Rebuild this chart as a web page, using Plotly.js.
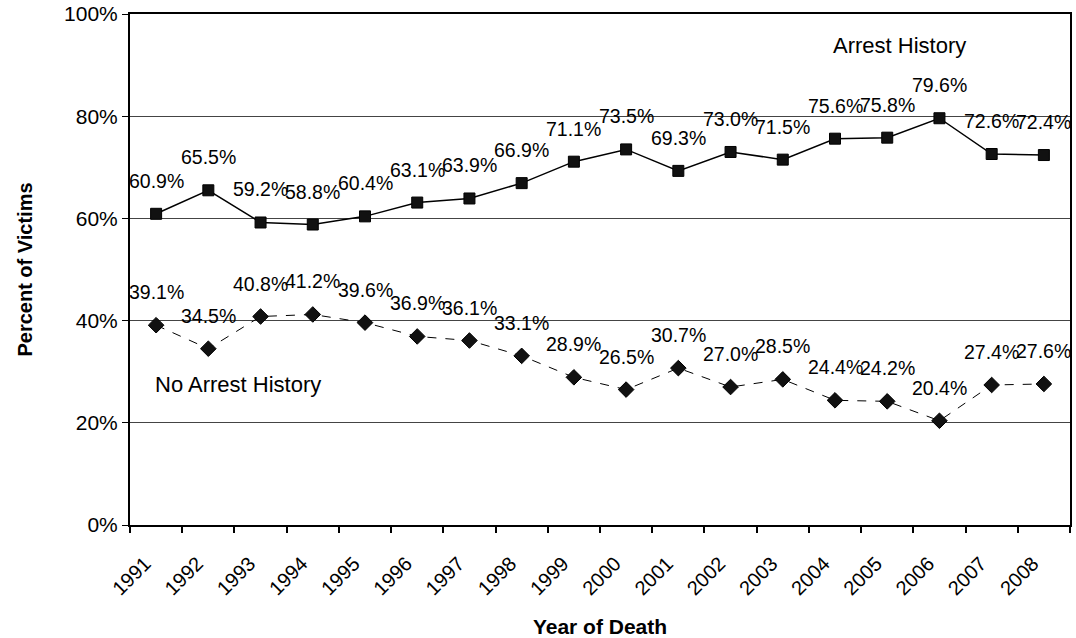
<!DOCTYPE html>
<html>
<head>
<meta charset="utf-8">
<script src="https://cdn.plot.ly/plotly-3.0.1.min.js"></script>
<style>html,body{margin:0;padding:0;background:#fff;}#chart{width:1076px;height:638px;}</style>
</head>
<body>
<div id="chart"></div>
<script>
const years = ["1991","1992","1993","1994","1995","1996","1997","1998","1999","2000","2001","2002","2003","2004","2005","2006","2007","2008"];
const arrestHistory = [60.9,65.5,59.2,58.8,60.4,63.1,63.9,66.9,71.1,73.5,69.3,73.0,71.5,75.6,75.8,79.6,72.6,72.4];
const noArrestHistory = [39.1,34.5,40.8,41.2,39.6,36.9,36.1,33.1,28.9,26.5,30.7,27.0,28.5,24.4,24.2,20.4,27.4,27.6];
const yTickVals = [0,20,40,60,80,100];
const yTickText = ["0%","20%","40%","60%","80%","100%"];

const FONT = "'Liberation Sans',Arial,sans-serif";

const traces = [
  {x: years, y: arrestHistory, type: 'scatter', mode: 'lines+markers', name: 'Arrest History',
   line: {color: '#000', width: 1.5},
   marker: {symbol: 'square', size: 11, color: '#111', line: {color: '#000', width: 1}}},
  {x: years, y: noArrestHistory, type: 'scatter', mode: 'lines+markers', name: 'No Arrest History',
   line: {color: '#000', width: 1, dash: 'dash'},
   marker: {symbol: 'diamond', size: 12, color: '#111', line: {color: '#000', width: 1}}}
];

const annotations = [];
function addLabels(vals) {
  vals.forEach((v, i) => annotations.push({
    x: i, y: v, xref: 'x', yref: 'y', text: v.toFixed(1) + '%',
    showarrow: false, yshift: 33, xanchor: 'center', yanchor: 'middle',
    font: {family: FONT, size: 19.5, color: '#000'}
  }));
}
addLabels(arrestHistory);
addLabels(noArrestHistory);
annotations.push({x: 0.819, y: 0.939, xref: 'paper', yref: 'paper', xanchor: 'center', yanchor: 'middle',
  text: 'Arrest History', showarrow: false, font: {family: FONT, size: 22, color: '#000'}});
annotations.push({x: 0.024, y: 0.274, xref: 'paper', yref: 'paper', xanchor: 'left', yanchor: 'middle',
  text: 'No Arrest History', showarrow: false, font: {family: FONT, size: 22, color: '#000'}});

const layout = {
  width: 1076, height: 638,
  margin: {l: 130, r: 6, t: 14, b: 113},
  paper_bgcolor: '#fff', plot_bgcolor: '#fff',
  showlegend: false,
  font: {family: FONT, color: '#000', size: 20},
  xaxis: {
    type: 'category', range: [-0.5, years.length - 0.5], autorange: false,
    tickson: 'boundaries', ticks: 'outside', ticklen: 6, tickcolor: '#000', tickwidth: 1.5,
    tickangle: -45, ticklabelstandoff: 17, ticklabelshift: -11,
    showline: true, linecolor: '#000', linewidth: 2, mirror: true, showgrid: false,
    tickfont: {family: FONT, size: 20, color: '#000'},
    title: {text: 'Year of Death', font: {family: FONT, size: 21, color: '#000', weight: 'bold'}, standoff: 22}
  },
  yaxis: {
    range: [0, 100], autorange: false, tickvals: yTickVals, ticktext: yTickText, ticks: 'outside', ticklen: 6, tickcolor: '#000',
    showline: true, linecolor: '#000', linewidth: 2, mirror: true,
    showgrid: true, gridcolor: '#444', gridwidth: 1, zeroline: false,
    tickfont: {family: FONT, size: 21, color: '#000'},
    title: {text: 'Percent of Victims', font: {family: FONT, size: 20, color: '#000', weight: 'bold'}, standoff: 26}
  },
  annotations: annotations
};

Plotly.newPlot('chart', traces, layout, {displayModeBar: false});
</script>
</body>
</html>
